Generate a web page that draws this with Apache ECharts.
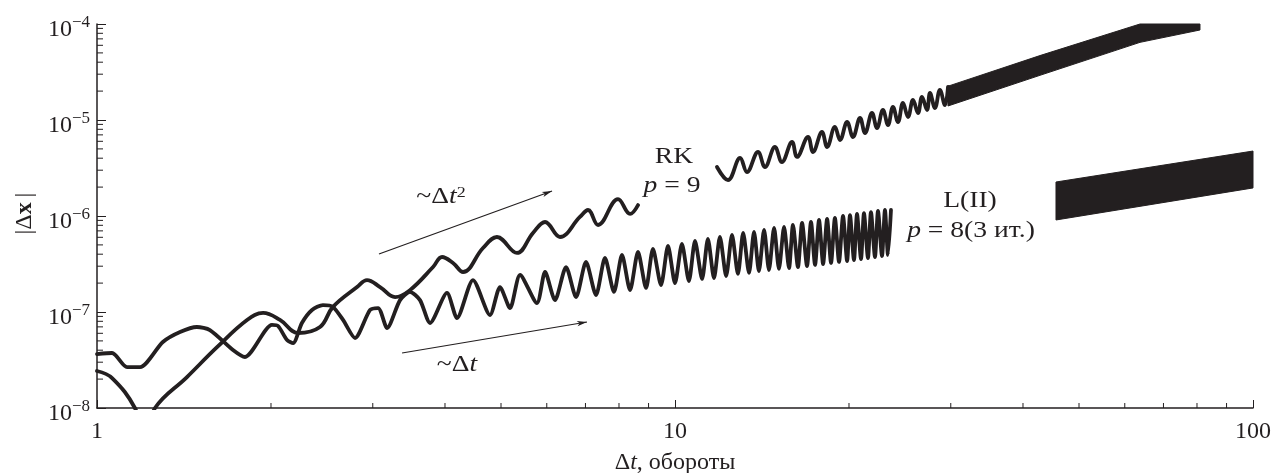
<!DOCTYPE html>
<html><head><meta charset="utf-8">
<script src="https://cdn.jsdelivr.net/npm/echarts@6/dist/echarts.min.js"></script>
<style>html,body{margin:0;padding:0;background:#fff}#c{width:1272px;height:473px}</style>
</head><body><div id="c"></div>
<script>
// ---- data ----
const xTickLabels = ['1', '10', '100'];
const yTickExponents = [-8, -7, -6, -5, -4];

// RK, p = 9 : first segment (smooth oscillation)
const rkSeg1 = [
  [1.000,2.43e-8],[1.062,2.05e-8],[1.163,1.0e-8],[1.211,4.6e-9],[1.260,1.0e-8],[1.431,2.1e-8],
  [1.613,4.3e-8],[1.818,8.26e-8],[1.938,9.77e-8],[2.073,8.26e-8],[2.227,6.04e-8],[2.431,6.98e-8],
  [2.560,1.13e-7],[2.818,1.82e-7],[2.932,2.15e-7],[3.088,1.82e-7],[3.279,1.43e-7],[3.479,1.69e-7],
  [3.814,2.94e-7],[3.953,3.74e-7],[4.130,3.24e-7],[4.298,2.61e-7],[4.654,4.64e-7],[4.920,6.04e-7],
  [5.329,4.12e-7],[5.679,6.65e-7],[5.959,8.66e-7],[6.324,6.04e-7],[6.847,9.77e-7],[7.072,1.155e-6],
  [7.360,8.06e-7],[7.969,1.50e-6],[8.360,1.05e-6],[8.630,1.30e-6]
];
// RK, second segment (resolvable oscillations)
const rkSeg2 = [
  [11.82,3.24e-6],[12.35,2.37e-6],[12.96,4.02e-6],[13.32,2.87e-6],[13.92,4.64e-6],[14.31,3.24e-6],
  [14.89,5.23e-6],[15.31,3.65e-6],[15.94,5.90e-6],[16.26,4.12e-6],[16.99,6.65e-6],[17.33,4.64e-6],
  [17.96,7.50e-6],[18.33,5.23e-6],[18.91,8.46e-6],[19.30,6.19e-6],[19.85,9.53e-6],[20.32,6.65e-6],
  [20.90,1.049e-5],[21.32,7.32e-6],[21.92,1.183e-5],[22.36,8.25e-6],[22.90,1.271e-5],[23.36,8.87e-6],
  [23.83,1.366e-5],[24.31,9.53e-6],[24.80,1.503e-5],[25.30,1.075e-5],[25.81,1.616e-5],[26.33,1.183e-5],
  [26.75,1.736e-5],[27.29,1.271e-5],[27.62,1.910e-5],[28.17,1.334e-5],[28.73,2.054e-5],[29.31,1.433e-5],
  [29.67,2.207e-5]
];
// RK, dense part drawn as a solid ribbon (upper / lower envelope)
const rkBandX   = [29.67, 42.80, 63.75, 80.96];
const rkBandTop = [2.25e-5, 4.69e-5, 1.09e-4, 1.8e-4];
const rkBandBot = [1.40e-5, 2.92e-5, 6.44e-5, 8.66e-5];

// L(II), p = 8 (3 it.) : first segment
const lSeg1 = [
  [1.000,3.65e-8],[1.062,3.74e-8],[1.127,2.67e-8],[1.187,2.67e-8],[1.300,4.87e-8],[1.392,6.19e-8],
  [1.489,6.98e-8],[1.568,6.49e-8],[1.719,4.02e-8],[1.803,3.40e-8],[2.008,7.33e-8],[2.057,7.15e-8],
  [2.132,5.11e-8],[2.184,4.75e-8],[2.262,7.68e-8],[2.355,1.05e-7],[2.460,1.18e-7],[2.560,1.13e-7],
  [2.665,8.26e-8],[2.795,5.36e-8],[2.968,1.05e-7],[3.064,1.10e-7],[3.176,6.81e-8],[3.344,1.33e-7],
  [3.479,1.62e-7],[3.621,1.33e-7],[3.769,7.68e-8],[4.032,1.58e-7],[4.196,8.66e-8],[4.472,2.15e-7],
  [4.786,9.31e-8],[4.980,1.82e-7],[5.183,1.10e-7],[5.394,2.43e-7],[5.770,1.24e-7],
  [5.959,2.61e-7],[6.200,1.33e-7],[6.479,2.94e-7],[6.742,1.43e-7],[7.015,3.32e-7],[7.300,1.50e-7],
  [7.566,3.65e-7],[7.842,1.62e-7],[8.096,3.93e-7],[8.360,1.69e-7],[8.630,4.22e-7],[8.910,1.78e-7],
  [9.159,4.53e-7],[9.458,1.91e-7],[9.725,4.87e-7],[10.00,2.00e-7],[10.28,5.11e-7],[10.57,2.10e-7],
  [10.83,5.49e-7],[11.14,2.21e-7],[11.40,5.76e-7],[11.68,2.26e-7],[11.96,6.04e-7],[12.26,2.37e-7],
  [12.55,6.34e-7],[12.85,2.49e-7],[13.12,6.65e-7],[13.43,2.55e-7],[13.70,6.81e-7],[13.97,2.67e-7],
  [14.26,7.15e-7],[14.54,2.74e-7],[14.84,7.50e-7],[15.13,2.81e-7],[15.44,7.68e-7],[15.75,2.87e-7],
  [16.00,8.06e-7],[16.32,2.94e-7],[16.59,8.46e-7],[16.92,3.01e-7],[17.19,8.66e-7],[17.47,3.09e-7],
  [17.75,9.09e-7],[18.04,3.16e-7],[18.33,9.31e-7],[18.62,3.24e-7],[18.91,9.53e-7],[19.22,3.32e-7],
  [19.53,1.0e-6],[19.85,3.40e-7],[20.08,1.02e-6],[20.40,3.48e-7],[20.65,1.05e-6],[20.98,3.56e-7],
  [21.23,1.07e-6],[21.57,3.65e-7],[21.83,1.10e-6],[22.18,3.74e-7],[22.45,1.13e-6],[22.81,3.83e-7],
  [23.08,1.155e-6],[23.36,3.93e-7],[23.64,1.155e-6]
];
// L(II), dense part drawn as a solid ribbon
const lBandX   = [45.62, 100];
const lBandTop = [2.26e-6, 4.75e-6];
const lBandBot = [9.09e-7, 1.96e-6];

// slope arrows  ~Δt^2  and  ~Δt
const arrowSq  = [[3.075, 4.02e-7], [6.127, 1.82e-6]];
const arrowLin = [[3.371, 3.74e-8], [7.043, 7.87e-8]];

// ---- styling ----
const INK = '#231f20';
const SERIF = '"Liberation Serif", "DejaVu Serif", serif';

function bandSeries(xs, top, bot) {
  return {
    type: 'custom', coordinateSystem: 'cartesian2d', silent: true, z: 3,
    data: [[xs[0], bot[0]]],
    renderItem: function (params, api) {
      const pts = [];
      for (let i = 0; i < xs.length; i++) pts.push(api.coord([xs[i], top[i]]));
      for (let i = xs.length - 1; i >= 0; i--) pts.push(api.coord([xs[i], bot[i]]));
      const cs = params.coordSys;
      return { type: 'polygon', shape: { points: echarts.graphic.clipPointsByRect(pts, cs) },
               style: { fill: INK, stroke: INK, lineWidth: 1 } };
    }
  };
}

// minor ticks (2..9 in each decade) drawn through the axes' own scales
const minorTickSeries = {
  type: 'custom', coordinateSystem: 'cartesian2d', silent: true, z: 5,
  data: [[1, 1e-8]],
  renderItem: function (params, api) {
    const cs = params.coordSys, ch = [];
    const yb = cs.y + cs.height;
    for (let d = 0; d < 2; d++) for (let k = 2; k <= 9; k++) {
      const p = api.coord([k * Math.pow(10, d), 1e-8]);
      ch.push({ type: 'line', shape: { x1: p[0], y1: yb, x2: p[0], y2: yb - 5 }, style: { stroke: INK, lineWidth: 1 } });
    }
    for (let d = -8; d < -4; d++) for (let k = 2; k <= 9; k++) {
      const p = api.coord([1, k * Math.pow(10, d)]);
      ch.push({ type: 'line', shape: { x1: cs.x, y1: p[1], x2: cs.x + 6, y2: p[1] }, style: { stroke: INK, lineWidth: 1 } });
    }
    return { type: 'group', children: ch };
  }
};

function lineSeries(data, smooth) {
  return { type: 'line', data: data, showSymbol: false, smooth: smooth, clip: true, z: 4,
           lineStyle: { color: INK, width: 3.8, join: 'round', cap: 'round' }, silent: true };
}

function label(x, y, text, size) {
  return { type: 'text', x: x, y: y, scaleX: 1.2, z: 10,
    style: { text: text, align: 'center', verticalAlign: 'middle', font: size + 'px ' + SERIF, fill: INK,
      rich: {
        i: { font: 'italic ' + size + 'px ' + SERIF, fill: INK },
        s: { font: Math.round(size * 0.65) + 'px ' + SERIF, fill: INK, verticalAlign: 'top', lineHeight: 12 }
      } } };
}

const chart = echarts.init(document.getElementById('c'), null, { renderer: 'canvas' });
chart.setOption({
  animation: false,
  backgroundColor: '#fff',
  grid: { left: 97, right: 19, top: 24, bottom: 65, containLabel: false, outerBoundsMode: 'none' },
  xAxis: {
    type: 'log', logBase: 10, min: 1, max: 100,
    axisLine: { lineStyle: { color: INK, width: 1.5 } },
    axisTick: { inside: true, length: 8, lineStyle: { color: INK, width: 1 } },
    splitLine: { show: false },
    axisLabel: { color: INK, fontFamily: SERIF, fontSize: 24, margin: 12,
      formatter: function (v) { const e = Math.round(Math.log10(v)); return xTickLabels[e]; } },
    name: '{d|Δ}{i|t}{d|, обороты}', nameLocation: 'middle', nameGap: 43,
    nameTextStyle: { rich: {
      d: { fontFamily: SERIF, fontSize: 24, color: INK },
      i: { fontFamily: SERIF, fontSize: 24, color: INK, fontStyle: 'italic' } } }
  },
  yAxis: {
    type: 'log', logBase: 10, min: 1e-8, max: 1e-4,
    axisLine: { lineStyle: { color: INK, width: 1.5 } },
    axisTick: { inside: true, length: 9, lineStyle: { color: INK, width: 1 } },
    splitLine: { show: false },
    axisLabel: { color: INK, margin: 7, padding: [8, 0, 0, 0],
      formatter: function (v) {
        const e = Math.round(Math.log10(v));
        if (yTickExponents.indexOf(e) < 0) return '';
        return '{b|10}{s|−' + (-e) + '}';
      },
      rich: {
        b: { fontFamily: SERIF, fontSize: 24, color: INK, lineHeight: 28, verticalAlign: 'bottom' },
        s: { fontFamily: SERIF, fontSize: 17, color: INK, lineHeight: 20, verticalAlign: 'top' }
      } },
    name: '{d|\u2009|Δ}{b|x}{d|\u2009|}', nameLocation: 'middle', nameGap: 54, nameRotate: 90,
    nameTextStyle: { rich: {
      d: { fontFamily: SERIF, fontSize: 24, color: INK },
      b: { fontFamily: SERIF, fontSize: 24, color: INK, fontWeight: 'bold' } } }
  },
  series: [
    lineSeries(rkSeg1, 0.4),
    lineSeries(rkSeg2, 0.4),
    lineSeries(lSeg1, 0.25),
    bandSeries(rkBandX, rkBandTop, rkBandBot),
    bandSeries(lBandX, lBandTop, lBandBot),
    minorTickSeries,
    {
      type: 'line', data: [], silent: true,
      markLine: {
        silent: true, symbol: ['none', 'arrow'], symbolSize: [4, 10], animation: false,
        lineStyle: { color: INK, width: 1.2, type: 'solid' }, label: { show: false },
        emphasis: { disabled: true },
        data: [
          [{ coord: arrowSq[0] }, { coord: arrowSq[1] }],
          [{ coord: arrowLin[0] }, { coord: arrowLin[1] }]
        ]
      }
    }
  ],
  graphic: [
    label(674, 157, 'RK', 23),
    label(672, 186, '{i|p} = 9', 23),
    label(970, 201, 'L(II)', 23),
    label(971, 231, '{i|p} = 8(3 ит.)', 23),
    label(441, 197, '~Δ{i|t}{s|2}', 23),
    label(457, 365, '~Δ{i|t}', 23)
  ]
});
</script>
</body></html>
